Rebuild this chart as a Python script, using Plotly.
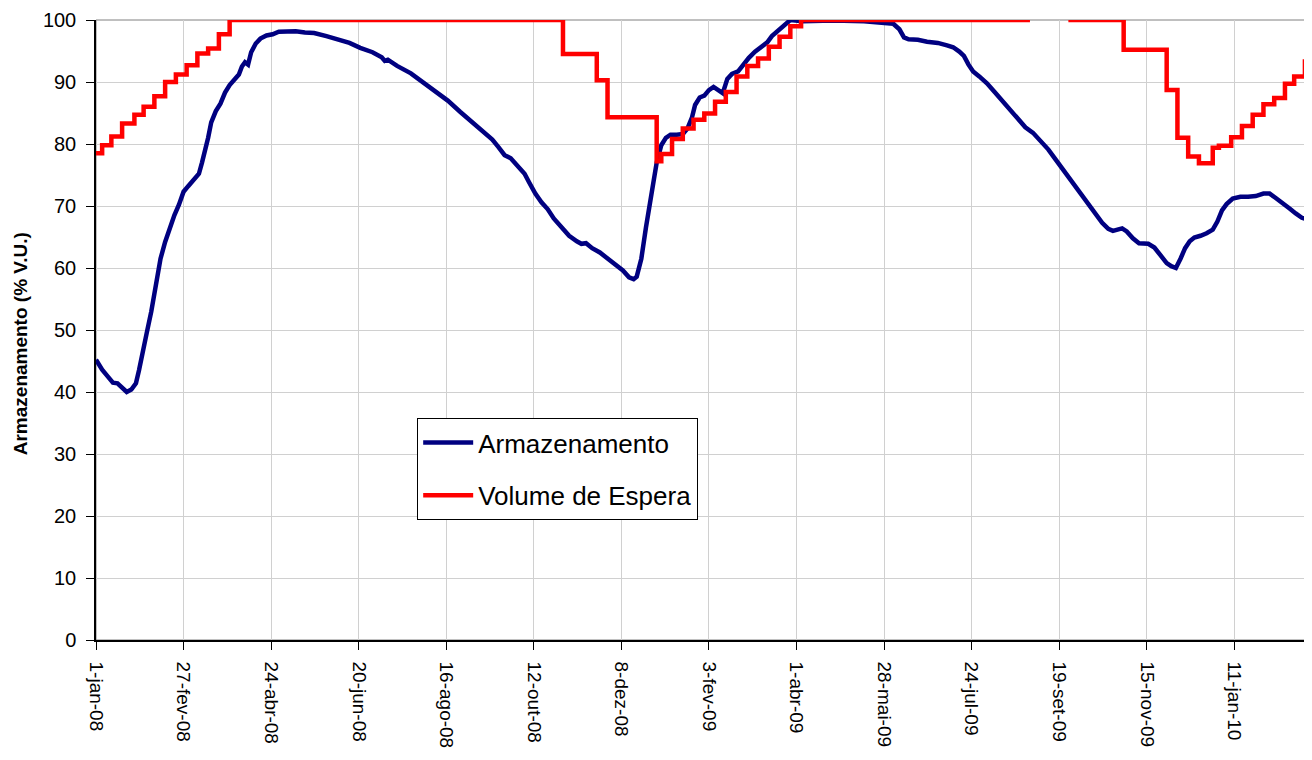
import pandas as pd
import plotly.graph_objects as go

# Armazenamento (% V.U.) - days since 1-jan-08
arm_dias = [0, 4, 8, 11, 14, 17, 20, 23, 26, 28, 30, 33, 36, 39, 42, 45, 48, 51, 54, 57,
            60, 64, 67, 69, 71, 73, 75, 78, 81, 84, 87, 90, 93, 95, 97, 99, 101, 104, 107, 111,
            115, 119, 124, 130, 136, 142, 150, 158, 165, 172, 180, 186, 188, 190, 196, 205, 213, 221, 229, 237,
            245, 253, 258, 262, 266, 270, 274, 279, 282, 286, 290, 294, 298, 303, 308, 313, 316, 319, 323, 328,
            333, 338, 343, 347, 350, 352, 355, 358, 361, 363, 365, 368, 371, 374, 378, 382, 385, 388, 390, 393,
            396, 399, 402, 405, 408, 411, 414, 418, 421, 425, 429, 433, 437, 440, 444, 448, 452, 460, 480, 500,
            515, 519, 523, 526, 529, 535, 541, 548, 554, 558, 562, 565, 568, 571, 575, 580, 585, 590, 595, 600,
            605, 610, 615, 620, 625, 630, 635, 640, 645, 650, 655, 659, 662, 665, 668, 671, 675, 679, 685, 689,
            693, 697, 700, 703, 706, 709, 712, 715, 719, 723, 727, 730, 733, 736, 740, 745, 750, 755, 760, 764,
            768, 772, 777, 781, 785, 789]
arm_vals = [45.2, 43.6, 42.4, 41.5, 41.4, 40.6, 40.0, 40.4, 41.4, 43.5, 46.3, 49.5, 53.0, 57.5, 61.5, 64.2, 66.5, 68.5, 70.2, 72.3,
            73.2, 74.3, 75.2, 77.0, 78.8, 81.0, 83.5, 85.3, 86.5, 88.3, 89.5, 90.4, 91.2, 92.5, 93.2, 92.8, 94.8, 96.2, 97.0, 97.5,
            97.7, 98.1, 98.2, 98.2, 98.0, 97.9, 97.4, 96.8, 96.3, 95.5, 94.8, 94.0, 93.4, 93.6, 92.6, 91.4, 90.0, 88.5, 87.0, 85.2,
            83.4, 81.7, 80.7, 79.5, 78.2, 77.7, 76.6, 75.2, 73.8, 72.0, 70.6, 69.5, 68.0, 66.6, 65.2, 64.3, 63.9, 64.0, 63.2, 62.5,
            61.6, 60.6, 59.6, 58.5, 58.2, 58.6, 61.5, 66.5, 70.5, 74.0, 77.0, 79.8, 81.0, 81.5, 81.5, 81.6, 82.5, 84.3, 86.3, 87.5,
            87.8, 88.7, 89.2, 88.6, 88.2, 90.5, 91.3, 91.7, 92.7, 93.9, 94.9, 95.7, 96.4, 97.4, 98.3, 99.3, 100.0, 99.8, 99.9, 99.8,
            99.6, 99.4, 98.5, 97.2, 96.9, 96.8, 96.5, 96.3, 95.9, 95.6, 94.9, 94.2, 92.8, 91.7, 90.9, 89.8, 88.4, 87.0, 85.6, 84.0,
            82.7, 81.8, 80.5, 79.1, 77.4, 75.7, 73.9, 72.5, 70.6, 68.8, 67.3, 66.3, 66.0, 66.2, 66.4, 65.9, 64.8, 64.0, 63.9, 63.3,
            62.0, 60.8, 60.3, 60.0, 61.5, 63.2, 64.3, 64.9, 65.2, 65.6, 66.2, 67.5, 69.3, 70.3, 71.2, 71.5, 71.5, 71.6, 72.0, 72.0,
            71.3, 70.6, 69.6, 68.8, 68.1, 67.8]

# Volume de Espera (% V.U.) - step series, days since 1-jan-08
esp_dias = [0, 4, 10, 17, 25, 31, 38, 45, 52, 59, 66, 73, 80, 87, 304, 326, 333, 365, 368, 375,
            382, 389, 396, 403, 410, 417, 424, 431, 438, 445, 452, 459, 608, 609, 633, 669, 697, 704, 711, 718,
            727, 731, 739, 746, 753, 760, 767, 774, 780, 787, 789]
esp_vals = [78.5, 79.8, 81.2, 83.3, 84.7, 86.0, 87.7, 90.0, 91.2, 92.7, 94.6, 95.4, 97.7, 100, 94.5, 90.3, 84.3, 77.2, 78.4, 80.8,
            82.5, 83.9, 84.9, 86.8, 88.4, 90.9, 92.6, 93.8, 95.7, 97.3, 99.0, 100, 100, None, 100, 95.2, 88.7, 81.0, 78.0, 76.9,
            79.4, 79.7, 81.1, 82.9, 84.7, 86.4, 87.4, 89.7, 90.9, 93.3, 93.3]

tick_vals = ["2008-01-01", "2008-02-27", "2008-04-24", "2008-06-20", "2008-08-16", "2008-10-12", "2008-12-08",
             "2009-02-03", "2009-04-01", "2009-05-28", "2009-07-24", "2009-09-19", "2009-11-15", "2010-01-11"]
tick_text = ["1-jan-08", "27-fev-08", "24-abr-08", "20-jun-08", "16-ago-08", "12-out-08", "8-dez-08",
             "3-fev-09", "1-abr-09", "28-mai-09", "24-jul-09", "19-set-09", "15-nov-09", "11-jan-10"]

inicio = pd.Timestamp("2008-01-01")
arm_datas = inicio + pd.to_timedelta(arm_dias, unit="D")
esp_datas = inicio + pd.to_timedelta(esp_dias, unit="D")

fig = go.Figure()
fig.add_trace(go.Scatter(x=arm_datas, y=arm_vals, mode="lines", name="Armazenamento",
                         line=dict(color="#000080", width=4.5), legendgroup="a"))
fig.add_trace(go.Scatter(x=esp_datas, y=esp_vals, mode="lines", name="Volume de Espera",
                         line=dict(color="#FF0000", width=4.5, shape="hv"), legendgroup="b"))

# gray frame around the plot area
fig.add_shape(type="rect", xref="paper", yref="paper", x0=0, x1=1, y0=0, y1=1,
              line=dict(color="#808080", width=1), layer="below")

# y title as annotation (sits a bit below the plot centre in the original)
fig.add_annotation(text="<b>Armazenamento (% V.U.)</b>", textangle=-90,
                   xref="paper", yref="paper", x=0, y=0.477, xanchor="center", yanchor="middle",
                   xshift=-76, showarrow=False, font=dict(size=19))

# page body has an 8px margin, so the figure is sized to fit inside it
fig.update_layout(
    width=1304, height=744,
    margin=dict(l=88, r=4, t=12, b=112),
    plot_bgcolor="white", paper_bgcolor="white",
    font=dict(family="Liberation Sans, Arial, sans-serif", size=20, color="black"),
    legend=dict(x=0.265, y=0.358, xanchor="left", yanchor="top",
                bgcolor="white", bordercolor="black", borderwidth=1,
                font=dict(size=26), traceorder="grouped", tracegroupgap=16,
                itemwidth=50),
    showlegend=True,
)
fig.update_xaxes(
    range=["2008-01-01", "2010-02-28"], automargin=False,
    tickvals=tick_vals, ticktext=tick_text, tickangle=90,
    ticks="outside", ticklen=8, tickcolor="black", ticklabelstandoff=8,
    showline=True, linecolor="black", linewidth=1.5,
    showgrid=True, gridcolor="#d0d0d0", gridwidth=1,
    tickfont=dict(size=19),
)
fig.update_yaxes(
    range=[0, 100], dtick=10, automargin=False,
    ticks="outside", ticklen=8, tickcolor="black", ticklabelstandoff=6,
    showline=True, linecolor="black", linewidth=1.5,
    showgrid=True, gridcolor="#d0d0d0", gridwidth=1,
    zeroline=False,
    tickfont=dict(size=20),
)

fig.write_html("out.html")
